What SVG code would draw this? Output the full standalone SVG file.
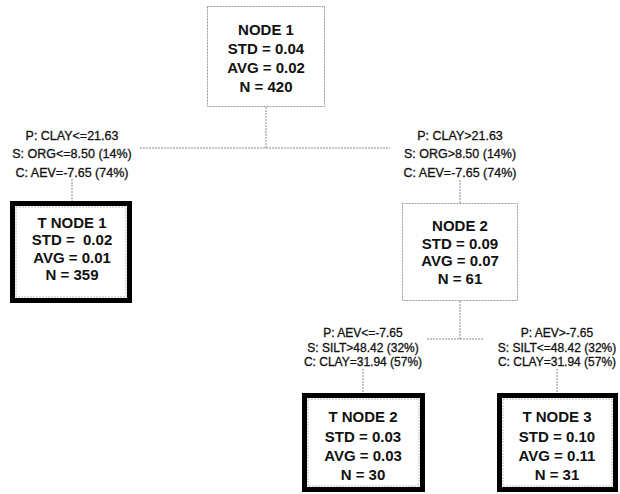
<svg xmlns="http://www.w3.org/2000/svg" width="620" height="494" viewBox="0 0 620 494">
<style>
.bg{fill:#fff}
.inner{fill:#fff;stroke:#999;stroke-width:1;stroke-dasharray:2 1}
.term{fill:#fff;stroke:#000;stroke-width:5}
.tinner{fill:none;stroke:#aaa;stroke-width:0.8;stroke-dasharray:2 1}
.nt{font-family:"Liberation Sans",Arial,sans-serif;font-size:15px;font-weight:bold;fill:#111;text-anchor:middle;white-space:pre}
.lb{font-family:"Liberation Sans",Arial,sans-serif;font-size:12.5px;fill:#111;stroke:#111;stroke-width:0.3;text-anchor:middle}
.lb2{font-family:"Liberation Sans",Arial,sans-serif;font-size:12px;fill:#111;stroke:#111;stroke-width:0.3;text-anchor:middle}
.conn line{stroke:#888;stroke-width:1;stroke-dasharray:2 1;fill:none}
</style>
<rect class="bg" x="0" y="0" width="620" height="494"/>
<g id="connectors" class="conn">
<line x1="266" y1="107" x2="266" y2="148"/>
<line x1="140" y1="148" x2="390" y2="148"/>
<line x1="72" y1="179" x2="72" y2="201"/>
<line x1="460" y1="180" x2="460" y2="203"/>
<line x1="460" y1="301" x2="460" y2="339"/>
<line x1="427" y1="339" x2="483" y2="339"/>
<line x1="363" y1="369" x2="363" y2="393"/>
<line x1="557" y1="369" x2="557" y2="393"/>
</g>
<g id="node1">
<rect class="inner" x="207.5" y="6.5" width="117" height="100"/>
<text class="nt" x="266" y="35">NODE 1</text>
<text class="nt" x="266" y="54">STD = 0.04</text>
<text class="nt" x="266" y="73">AVG = 0.02</text>
<text class="nt" x="266" y="92">N = 420</text>
</g>
<g id="label-left">
<text class="lb" x="72" y="139.5">P: CLAY&lt;=21.63</text>
<text class="lb" x="72" y="157.5">S: ORG&lt;=8.50 (14%)</text>
<text class="lb" x="72" y="176.5">C: AEV=-7.65 (74%)</text>
</g>
<g id="label-right">
<text class="lb" x="460" y="139.5">P: CLAY&gt;21.63</text>
<text class="lb" x="460" y="157.5">S: ORG&gt;8.50 (14%)</text>
<text class="lb" x="460" y="176.5">C: AEV=-7.65 (74%)</text>
</g>
<g id="tnode1">
<rect class="term" x="12.5" y="203.5" width="117" height="97"/>
<rect class="tinner" x="16" y="207" width="110" height="90"/>
<text class="nt" x="72" y="227.5">T NODE 1</text>
<text class="nt" x="72" y="245">STD =  0.02</text>
<text class="nt" x="72" y="262.5">AVG = 0.01</text>
<text class="nt" x="72" y="280">N = 359</text>
</g>
<g id="node2">
<rect class="inner" x="402.5" y="203.5" width="115" height="97"/>
<text class="nt" x="460" y="230.5">NODE 2</text>
<text class="nt" x="460" y="248.5">STD = 0.09</text>
<text class="nt" x="460" y="266">AVG = 0.07</text>
<text class="nt" x="460" y="283.5">N = 61</text>
</g>
<g id="label-bl">
<text class="lb2" x="363" y="337">P: AEV&lt;=-7.65</text>
<text class="lb2" x="363" y="352">S: SILT&gt;48.42 (32%)</text>
<text class="lb2" x="363" y="366">C: CLAY=31.94 (57%)</text>
</g>
<g id="label-br">
<text class="lb2" x="557" y="337">P: AEV&gt;-7.65</text>
<text class="lb2" x="557" y="352">S: SILT&lt;=48.42 (32%)</text>
<text class="lb2" x="557" y="366">C: CLAY=31.94 (57%)</text>
</g>
<g id="tnode2">
<rect class="term" x="304.5" y="395.5" width="118" height="94"/>
<rect class="tinner" x="308" y="399" width="111" height="87"/>
<text class="nt" x="363" y="421.5">T NODE 2</text>
<text class="nt" x="363" y="441.5">STD = 0.03</text>
<text class="nt" x="363" y="461">AVG = 0.03</text>
<text class="nt" x="363" y="480">N = 30</text>
</g>
<g id="tnode3">
<rect class="term" x="499.5" y="395.5" width="116" height="94"/>
<rect class="tinner" x="503" y="399" width="109" height="87"/>
<text class="nt" x="557" y="421.5">T NODE 3</text>
<text class="nt" x="557" y="441.5">STD = 0.10</text>
<text class="nt" x="557" y="461">AVG = 0.11</text>
<text class="nt" x="557" y="480">N = 31</text>
</g>
</svg>
